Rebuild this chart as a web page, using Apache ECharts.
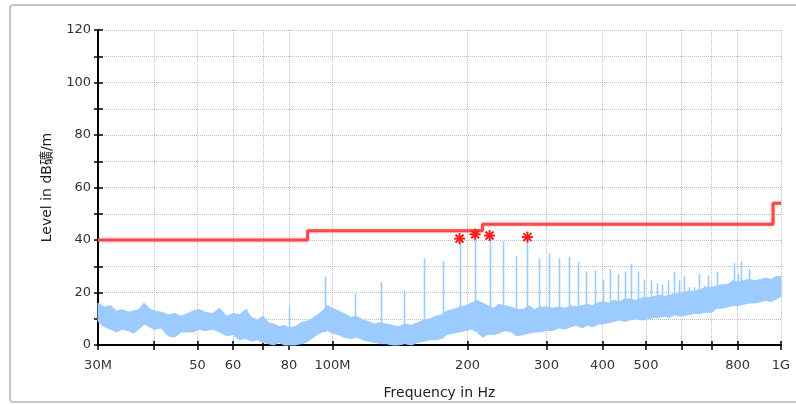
<!DOCTYPE html>
<html>
<head>
<meta charset="utf-8">
<script src="https://cdn.jsdelivr.net/npm/echarts@6/dist/echarts.min.js"></script>
<style>
  html, body { margin: 0; padding: 0; background: #fff; }
  #chart { width: 796px; height: 405px; }
</style>
</head>
<body>
<div id="chart"></div>
<script>
// Frequency grid of the noise-floor trace (MHz) with its upper and lower envelope (dBuV/m)
const bandFreq = [
  30, 31, 32, 33, 34, 35, 36, 37, 38, 39, 40, 41.5, 43, 44.5, 46, 47.5, 49, 50.5, 52, 54,
  56, 58, 60, 62, 64, 66, 68, 70, 72, 74, 76, 78, 80, 82.5, 85, 87.5, 90, 92.5, 95, 97.5, 100,
  103, 106, 110, 113, 117, 120, 124, 128, 132, 136, 140, 145, 150, 155, 160, 165, 170, 175, 180,
  186, 192, 198, 204, 210, 216, 222, 228, 235, 242, 250, 258, 266, 274, 282, 290, 300,
  310, 320, 330, 340, 350, 360, 370, 380, 390, 400, 412, 424, 436, 448, 460, 475, 490, 505, 520,
  535, 550, 565, 580, 600, 620, 640, 660, 680, 700, 720, 740, 760, 780, 800, 825, 850, 875, 900,
  925, 950, 975, 1000
];
const bandTop = [
  16, 14.5, 15, 13, 13.5, 12.5, 13, 13.5, 16, 14, 13, 12.5, 11.5, 12, 11, 12, 13, 13.5, 12.5, 12,
  14, 11, 12, 11.5, 13.5, 10.5, 9.5, 11, 8.5, 8, 7, 7.5, 6.5, 7, 8.5, 9, 10, 11.5, 13, 15, 14,
  13, 12, 10.5, 11, 9.5, 9, 8, 8.5, 8, 7.5, 7, 8, 7.5, 8.5, 9.5, 10, 11, 11.5, 13,
  13.5, 14.5, 15, 16, 17, 16, 15, 14, 15.5, 15, 14.5, 13.5, 13.5, 15, 13.5, 14.5, 14.5,
  14, 14.5, 14, 15, 14.5, 15, 15.5, 15, 16, 16.5, 16, 17, 16.5, 17.5, 17.5, 17, 18, 18, 18.5,
  19, 18.5, 19, 19.5, 19.5, 20.5, 20.5, 21, 22, 22, 22.5, 23, 23, 24.5, 24, 24.5, 25, 24.5, 25,
  25.5, 25, 26, 26
];
const bandLow = [
  9, 7, 6, 5, 6, 5.5, 4.5, 6, 8, 7, 6, 6.5, 3.5, 3, 5, 5, 5, 6, 5.5, 6,
  5, 3.5, 4, 2, 2.5, 1.5, 2, 1, 0.5, 0, 1, 0, 0, 0, 0.5, 1, 2.5, 4, 5, 5.5, 4.5,
  4, 3, 2.5, 3, 2, 1.5, 1, 0.5, 0.5, 0, 0, 0.5, 0, 1, 1.5, 2, 2, 2.5, 4,
  4.5, 5, 5.5, 6, 5, 3, 4, 4, 4.5, 5.5, 5, 3.5, 4, 4.5, 5, 5, 5.5,
  5.5, 6.5, 6, 7, 7.5, 6.5, 7.5, 7, 8, 8, 8.5, 9, 9.5, 9, 9.5, 10, 9.5, 10, 10.5,
  10.5, 11, 10.5, 11.5, 11, 11.5, 12, 12, 12.5, 12.5, 14, 14, 14.5, 15, 15, 15.5, 16, 16, 16.5,
  17, 16.5, 17.5, 18.5
];

// Narrow-band emissions (clock harmonics) standing out of the noise floor
const spikeFreq = [64, 80, 96, 112, 128, 144, 160, 176, 192, 208, 224, 240, 256, 272, 288, 304,
  320, 336, 352, 368, 384, 400, 416, 432, 448, 464, 480, 496, 512, 528, 544, 560, 576, 592, 608,
  624, 640, 656, 672, 688, 720, 752, 784, 800, 816, 848];
const spikePeak = [13.8, 14.4, 26, 19.5, 24, 20.8, 33, 32, 40.5, 42.2, 41.7, 39.5, 34, 41.1, 33, 35,
  33, 33.5, 31.5, 28, 28.4, 25, 29, 27, 28, 31, 28, 25, 24.6, 23.5, 23, 24.6, 27.8, 24.6, 26.5,
  22, 22, 27.2, 22.6, 26.5, 27.8, 22, 31.2, 27, 31.8, 28.7];

// Peaks flagged by the final measurement
const markedFreq = [192, 208, 224, 272];

// Limit line: level holds from each edge up to the next one
const limitEdges = [30, 88, 216, 960, 1000];
const limitLevels = [40, 43.5, 46, 54];

// Axis ticks and labels
const xTickValues = [30, 40, 50, 60, 70, 80, 100, 200, 300, 400, 500, 600, 700, 800, 1000];
const xLabelValues = [30, 50, 60, 80, 100, 200, 300, 400, 500, 800, 1000];
const xLabelText = { 30: '30M', 100: '100M', 1000: '1G' };

const limitPoints = [];
for (let i = 0; i < limitLevels.length; i++) {
  limitPoints.push([limitEdges[i], limitLevels[i]]);
  limitPoints.push([limitEdges[i + 1], limitLevels[i]]);
}

function nearestLow(f) {
  let best = 0;
  for (let i = 1; i < bandFreq.length; i++) {
    if (Math.abs(Math.log(bandFreq[i] / f)) < Math.abs(Math.log(bandFreq[best] / f))) best = i;
  }
  return bandLow[best];
}

const spikeData = spikeFreq.map((f, i) => [f, spikePeak[i], nearestLow(f)]);
const markedData = markedFreq.map(f => [f, spikePeak[spikeFreq.indexOf(f)]]);

const TRACE = '#9ccbff';
const FONT = 'DejaVu Sans, Noto Sans CJK SC, sans-serif';
const gridLine = { show: true, lineStyle: { type: 'dotted', color: '#bdbdbd', width: 1 } };

const chart = echarts.init(document.getElementById('chart'), null, { renderer: 'canvas' });

chart.setOption({
  animation: false,
  backgroundColor: '#fff',
  graphic: [{
    type: 'rect', silent: true, z: -10,
    shape: { x: 10, y: 5, width: 800, height: 397, r: 3 },
    style: { fill: null, stroke: '#c6c6c6', lineWidth: 2 }
  }],
  grid: { left: 98, right: 15, top: 30, bottom: 60 },
  xAxis: [{
    type: 'log', logBase: 10, min: 30, max: 1000,
    name: 'Frequency in Hz', nameLocation: 'middle', nameGap: 41,
    nameTextStyle: { fontFamily: FONT, fontSize: 14, color: '#222' },
    axisLine: { onZero: false, lineStyle: { color: '#000', width: 2 } },
    axisTick: { customValues: xTickValues, length: 5, lineStyle: { color: '#000', width: 1.5 } },
    axisLabel: {
      customValues: xLabelValues, margin: 14, fontFamily: FONT, fontSize: 13, color: '#333',
      formatter: v => { const r = Math.round(v); return xLabelText[r] || String(r); }
    },
    minorTick: { show: false }, minorSplitLine: { show: false },
    splitLine: gridLine
  }, {
    type: 'log', logBase: 10, min: 30, max: 1000, position: 'bottom',
    axisLine: { show: false },
    axisTick: { customValues: xTickValues, inside: true, length: 4, lineStyle: { color: '#000', width: 1.5 } },
    axisLabel: { show: false }, splitLine: { show: false }
  }],
  yAxis: [{
    type: 'value', min: 0, max: 120, interval: 10,
    name: 'Level in dB礦/m', nameLocation: 'middle', nameGap: 44,
    nameTextStyle: { fontFamily: FONT, fontSize: 14, color: '#222' },
    axisLine: { show: true, onZero: false, lineStyle: { color: '#000', width: 2 } },
    axisTick: { show: true, length: 4, lineStyle: { color: '#000', width: 1.5 } },
    axisLabel: {
      margin: 7, fontFamily: FONT, fontSize: 13, color: '#333',
      formatter: v => (v % 20 === 0 ? String(v) : '')
    },
    splitLine: gridLine
  }, {
    type: 'value', min: 0, max: 120, interval: 10, position: 'left',
    axisLine: { show: false },
    axisTick: { show: true, inside: true, length: 5, lineStyle: { color: '#000', width: 1.5 } },
    axisLabel: { show: false }, splitLine: { show: false }
  }],
  series: [{
    // noise floor drawn as the area between its envelopes
    type: 'custom', xAxisIndex: 0, yAxisIndex: 0, silent: true, z: 2,
    data: [[100, 10]],
    renderItem: function (params, api) {
      const pts = [];
      for (let i = 0; i < bandFreq.length; i++) pts.push(api.coord([bandFreq[i], bandTop[i]]));
      for (let i = bandFreq.length - 1; i >= 0; i--) pts.push(api.coord([bandFreq[i], bandLow[i]]));
      return { type: 'polygon', shape: { points: pts }, style: { fill: TRACE, stroke: TRACE, lineWidth: 1 } };
    }
  }, {
    type: 'custom', xAxisIndex: 0, yAxisIndex: 0, silent: true, z: 3,
    data: spikeData,
    renderItem: function (params, api) {
      const top = api.coord([api.value(0), api.value(1)]);
      const bot = api.coord([api.value(0), api.value(2)]);
      return {
        type: 'line',
        shape: { x1: Math.round(top[0]) + 0.5, y1: top[1], x2: Math.round(bot[0]) + 0.5, y2: bot[1] },
        style: { stroke: TRACE, lineWidth: 1.6 }
      };
    }
  }, {
    type: 'line', xAxisIndex: 0, yAxisIndex: 0, z: 4,
    data: limitPoints, symbol: 'none',
    lineStyle: { color: '#ff4848', width: 3, shadowBlur: 2, shadowColor: 'rgba(255,90,90,0.6)' }
  }, {
    type: 'custom', xAxisIndex: 0, yAxisIndex: 0, silent: true, z: 5,
    data: markedData,
    renderItem: function (params, api) {
      const c = api.coord([api.value(0), api.value(1)]);
      const r = 5.5, d = r * 0.72;
      const seg = (x1, y1, x2, y2) => ({
        type: 'line', shape: { x1: c[0] + x1, y1: c[1] + y1, x2: c[0] + x2, y2: c[1] + y2 },
        style: { stroke: '#ff1a1a', lineWidth: 2 }
      });
      return {
        type: 'group',
        children: [seg(-r, 0, r, 0), seg(0, -r, 0, r), seg(-d, -d, d, d), seg(-d, d, d, -d)]
      };
    }
  }]
});
</script>
</body>
</html>
